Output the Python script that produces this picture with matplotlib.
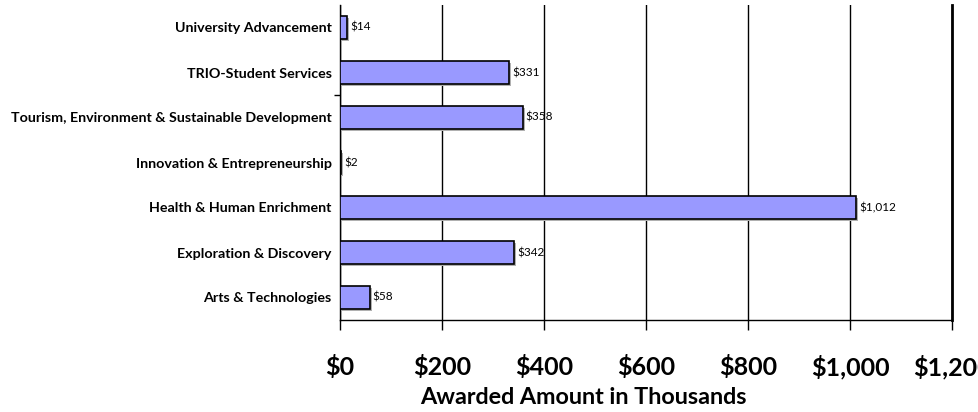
import numpy as np
import matplotlib.pyplot as plt
from matplotlib.ticker import FuncFormatter

categories = ["Arts & Technologies", "Exploration & Discovery", "Health & Human Enrichment",
              "Innovation & Entrepreneurship", "Tourism, Environment & Sustainable Development",
              "TRIO-Student Services", "University Advancement"]
values = [58, 342, 1012, 2, 358, 331, 14]

plt.rcParams['font.family'] = ['Lato', 'DejaVu Sans']

fig = plt.figure(figsize=(9.79, 4.12), dpi=100)
ax = fig.add_axes([340 / 979, 1 - 320 / 412, 612 / 979, 315 / 412])

y = np.arange(len(categories))
# drop shadow
ax.barh(y - 0.04, values, left=4, height=0.5, color='#b0b0b0', zorder=2)
ax.barh(y, values, height=0.5, color='#9999ff', edgecolor='black', linewidth=1.2, zorder=3)

for yi, v in zip(y, values):
    ax.text(v + 6, yi, f"${v:,}", va='center', ha='left', fontsize=8.5, zorder=4)

ax.set_xlim(0, 1200)
ax.set_ylim(-0.5, len(categories) - 0.5)
ax.set_xticks(np.arange(0, 1201, 200))
ax.xaxis.set_major_formatter(FuncFormatter(lambda v, p: f"${int(v):,}"))
ax.set_yticks(y)
ax.set_yticklabels(categories, fontsize=10.3, fontweight='bold')
ax.tick_params(axis='y', length=0, pad=6)
ax.set_yticks([4.5], minor=True)
ax.tick_params(axis='y', which='minor', length=4, width=1)
ax.tick_params(axis='x', length=7, width=1, direction='out', pad=18, labelsize=18)
for lab in ax.get_xticklabels():
    lab.set_fontweight('bold')
ax.grid(axis='x', color='black', linewidth=1, zorder=1)
ax.set_axisbelow(True)
ax.spines['top'].set_visible(False)
ax.spines['right'].set_linewidth(2)
ax.spines['left'].set_linewidth(1)
ax.spines['bottom'].set_linewidth(1)
ax.set_xlabel("Awarded Amount in Thousands", fontsize=16.8, fontweight='bold')
ax.xaxis.set_label_coords((583 - 340) / 612, -(398 - 320) / 315, transform=ax.transAxes)
ax.xaxis.label.set_va('center')

fig.savefig("out.png", dpi=100)
